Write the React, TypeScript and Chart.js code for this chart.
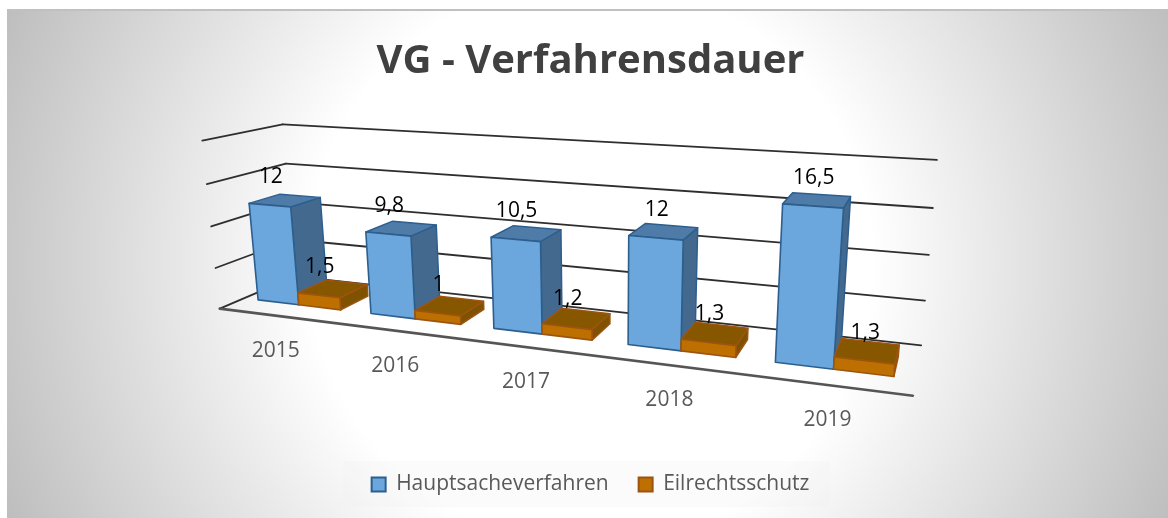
import React, { useEffect, useRef } from "react";
import { Chart, registerables } from "chart.js";

Chart.register(...registerables);

const categories = ["2015", "2016", "2017", "2018", "2019"];
const hauptsacheverfahren = [12, 9.8, 10.5, 12, 16.5];
const eilrechtsschutz = [1.5, 1, 1.2, 1.3, 1.3];
const axisMax = 20;
const axisStep = 5;
const titleText = "VG - Verfahrensdauer";
const fontFamily = '"Open Sans"';

// calibration of the 3D view: (across, depth, height) -> screen
const calibration: number[][] = [
  [0, 0, 0, 219, 308],
  [1, 0, 0, 913, 396],
  [0, 1, 0, 296, 277],
  [1, 1, 0, 921, 345],
  [0, 1, 1, 282, 124],
  [1, 1, 1, 937, 160],
  [0, 0, 1, 203, 141],
];
const depthFront = 0.3;
const depthBack = 0.7;

function solveProjection(points: number[][]): number[] {
  const rows: number[][] = [];
  const rhs: number[] = [];
  for (const [u, v, w, x, y] of points) {
    rows.push([u, v, w, 1, 0, 0, 0, 0, -x * u, -x * v, -x * w]);
    rhs.push(x);
    rows.push([0, 0, 0, 0, u, v, w, 1, -y * u, -y * v, -y * w]);
    rhs.push(y);
  }
  const n = 11;
  const a: number[][] = [];
  for (let i = 0; i < n; i++) {
    const row = new Array(n + 1).fill(0);
    for (let j = 0; j < n; j++) for (let r = 0; r < rows.length; r++) row[j] += rows[r][i] * rows[r][j];
    for (let r = 0; r < rows.length; r++) row[n] += rows[r][i] * rhs[r];
    row[i] += 1e-6;
    a.push(row);
  }
  for (let i = 0; i < n; i++) {
    let p = i;
    for (let r = i + 1; r < n; r++) if (Math.abs(a[r][i]) > Math.abs(a[p][i])) p = r;
    [a[i], a[p]] = [a[p], a[i]];
    for (let r = 0; r < n; r++) {
      if (r === i) continue;
      const f = a[r][i] / a[i][i];
      for (let c = i; c <= n; c++) a[r][c] -= f * a[i][c];
    }
  }
  return a.map((row, i) => row[n] / row[i]);
}

const P = solveProjection(calibration);
function project(u: number, v: number, w: number): [number, number] {
  const d = P[8] * u + P[9] * v + P[10] * w + 1;
  return [
    (P[0] * u + P[1] * v + P[2] * w + P[3]) / d,
    (P[4] * u + P[5] * v + P[6] * w + P[7]) / d,
  ];
}

function poly(ctx: CanvasRenderingContext2D, pts: [number, number][], fill: string, stroke: string, lw: number) {
  ctx.beginPath();
  pts.forEach((p, i) => (i ? ctx.lineTo(p[0], p[1]) : ctx.moveTo(p[0], p[1])));
  ctx.closePath();
  ctx.fillStyle = fill;
  ctx.fill();
  ctx.lineWidth = lw;
  ctx.strokeStyle = stroke;
  ctx.lineJoin = "round";
  ctx.stroke();
}

function seg(ctx: CanvasRenderingContext2D, a: [number, number], b: [number, number], color: string, lw: number) {
  ctx.beginPath();
  ctx.moveTo(a[0], a[1]);
  ctx.lineTo(b[0], b[1]);
  ctx.strokeStyle = color;
  ctx.lineWidth = lw;
  ctx.stroke();
}

const faceColors = [
  { front: "#6ba6dc", side: "#44698f", top: "#4f7ba8", edge: "#2d5f8e" },
  { front: "#bd7000", side: "#7f5200", top: "#875700", edge: "#9c5410" },
];

const scene3d = {
  id: "scene3d",
  beforeDraw(chart: any) {
    const { ctx, width, height } = chart;
    ctx.save();
    const x0 = 7, y0 = 9;
    ctx.beginPath();
    ctx.rect(x0, y0, width - x0, height - y0);
    ctx.clip();
    const g = ctx.createRadialGradient(590, 262, 0, 590, 262, 640);
    g.addColorStop(0, "#ffffff");
    g.addColorStop(0.44, "#ffffff");
    g.addColorStop(1, "#bdbdbd");
    ctx.fillStyle = g;
    ctx.fillRect(x0, y0, width - x0, height - y0);
    // faint band behind the legend
    ctx.fillStyle = "rgba(238,238,238,0.25)";
    ctx.fillRect(343, 461, 487, 46);
    // top edge
    ctx.fillStyle = "#c0c0c0";
    ctx.fillRect(x0, y0, width - x0, 2);
    ctx.restore();
  },
  beforeDatasetsDraw(chart: any) {
    const { ctx, chartArea: area, scales } = chart;
    const yScale = scales.y;
    const toU = (px: number) => (px - area.left) / area.width;
    const toW = (py: number) => (area.bottom - py) / area.height;
    ctx.save();
    ctx.lineCap = "round";

    // walls
    for (const t of yScale.ticks) {
      const w = toW(yScale.getPixelForValue(t.value));
      seg(ctx, project(0, 0, w), project(0, 1, w), "#2e2e2e", 1.8);
      seg(ctx, project(0, 1, w), project(1, 1, w), "#2e2e2e", 1.8);
    }
    seg(ctx, project(0, 0, 0), project(1, 0, 0), "#555555", 2.6);

    // category labels
    ctx.font = `21px ${fontFamily}`;
    ctx.textAlign = "center";
    ctx.textBaseline = "middle";
    ctx.fillStyle = "#595959";
    categories.forEach((c, i) => {
      const xs = scales.x.getPixelForValue(i);
      const p = project(toU(xs), 0, 0);
      ctx.fillText(c, p[0], p[1] + 35);
    });

    // boxes, left to right
    const labels: { text: string; x: number; y: number }[] = [];
    categories.forEach((_, i) => {
      chart.data.datasets.forEach((ds: any, d: number) => {
        const el = chart.getDatasetMeta(d).data[i];
        const c = faceColors[d];
        const u0 = toU(el.x - el.width / 2);
        const u1 = toU(el.x + el.width / 2);
        const w = toW(el.y);
        const f = depthFront, b = depthBack;
        poly(ctx, [project(u1, f, 0), project(u1, b, 0), project(u1, b, w), project(u1, f, w)], c.side, c.edge, 1.5);
        poly(ctx, [project(u0, f, w), project(u1, f, w), project(u1, b, w), project(u0, b, w)], c.top, c.edge, 1.5);
        poly(ctx, [project(u0, f, 0), project(u1, f, 0), project(u1, f, w), project(u0, f, w)], c.front, c.edge, 1.6);
        const a = project((u0 + u1) / 2, f, w);
        labels.push({ text: String(ds.data[i]).replace(".", ","), x: a[0] + 1, y: a[1] - 28 });
      });
    });

    // data labels
    ctx.font = `21px ${fontFamily}`;
    ctx.fillStyle = "#000000";
    for (const l of labels) ctx.fillText(l.text, l.x, l.y);
    ctx.restore();
    return false;
  },
};

export default function App() {
  const ref = useRef<HTMLCanvasElement | null>(null);
  useEffect(() => {
    if (!ref.current) return;
    const chart = new Chart(ref.current, {
      type: "bar",
      data: {
        labels: categories,
        datasets: [
          { label: "Hauptsacheverfahren", data: hauptsacheverfahren, backgroundColor: "#6ba6dc", borderColor: "#2d5f8e", borderWidth: 2 },
          { label: "Eilrechtsschutz", data: eilrechtsschutz, backgroundColor: "#bd7000", borderColor: "#9c5410", borderWidth: 2 },
        ],
      },
      options: {
        responsive: false,
        animation: false,
        events: [],
        layout: { padding: { left: 13, top: 38, bottom: 13, right: 0 } },
        datasets: { bar: { categoryPercentage: 0.74, barPercentage: 1 } },
        scales: {
          x: { display: false, grid: { display: false } },
          y: { display: false, min: 0, max: axisMax, ticks: { stepSize: axisStep }, grid: { display: false } },
        },
        plugins: {
          tooltip: { enabled: false },
          title: {
            display: true,
            text: titleText,
            color: "#404040",
            font: { family: "Open Sans", size: 40, weight: "bold" },
            padding: { top: 0, bottom: 20 },
          },
          legend: {
            position: "bottom",
            labels: {
              color: "#595959",
              font: { family: "Open Sans", size: 21 },
              boxWidth: 14,
              boxHeight: 14,
              padding: 30,
            },
          },
        },
      },
      plugins: [scene3d],
    } as any);
    return () => chart.destroy();
  }, []);
  return (
    <div style={{ position: "fixed", left: 0, top: 0, width: 1168, height: 518, overflow: "hidden", background: "#ffffff" }}>
      <canvas ref={ref} width={1168} height={518} style={{ display: "block" }} />
    </div>
  );
}
